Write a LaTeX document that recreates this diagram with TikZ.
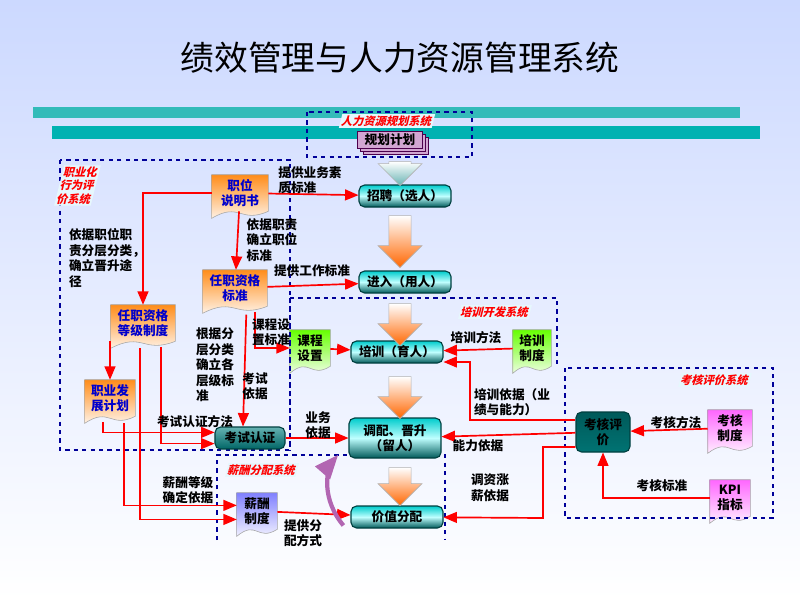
\documentclass[tikz,border=0pt]{standalone}
\usepackage{fontspec}
\setmainfont{Noto Sans CJK SC}
\usetikzlibrary{shapes.arrows, arrows, calc}
\pgfdeclarelayer{bg}
\pgfdeclarelayer{background}
\pgfsetlayers{bg,background,main}
\tikzstyle{stage} = [rectangle, rounded corners=4pt,
minimum width=2.3cm,
minimum height=0.55cm,
text centered,
font=\bfseries\small,
draw=teal!50!black, thick,
top color=cyan!60!teal, bottom color=teal!70!black, middle color=cyan!25]
\tikzstyle{doc} = [rectangle,
minimum width=1.4cm,
minimum height=0.9cm,
text centered,
align=center,
font=\bfseries\small,
inner sep=1pt]
\tikzstyle{frame} = [draw=blue!60!black, dashed, thick]
\tikzstyle{sysname} = [font=\bfseries\footnotesize, text=red, fill=cyan!10, align=left, inner sep=1pt, xslant=0.25]
\tikzstyle{txt} = [font=\bfseries\small, text=black, align=left, inner sep=1pt]
\tikzstyle{arrow} = [red, very thick, ->, >=triangle 45]
\tikzstyle{bigarrow} = [single arrow, shape border rotate=270, draw=gray!60,
minimum height=1.05cm, minimum width=1.1cm, single arrow head extend=0.12cm,
top color=white, bottom color=orange!80!red]
% wavy document shape behind a node
\newcommand{\docshape}[3]{%
\begin{pgfonlayer}{background}
\path[draw=gray!70, top color=#2, bottom color=#3]
 (#1.north west) -- (#1.north east) -- (#1.south east)
 .. controls ($(#1.south)+(0,-9pt)$) and ($(#1.south)+(0,7pt)$) ..
 ($(#1.south west)+(0,-5pt)$) -- cycle;
\end{pgfonlayer}}

\begin{document}
\begin{tikzpicture}[x=0.025cm, y=-0.025cm]
\begin{pgfonlayer}{bg}
\fill[top color=cyan!25!blue!20, bottom color=white] (0,0) rectangle (800,600);
\fill[cyan!60!green!80] (33,107) rectangle (740,118);
\fill[teal!60!cyan] (52,126) rectangle (760,139);
\end{pgfonlayer}
\node at (400,58) {\fontsize{24}{26}\selectfont 绩效管理与人力资源管理系统};

% frames
\draw[frame] (307,112) rectangle (472,157);
\draw[frame] (60,160) rectangle (290,450);
\draw[frame] (290,298) -- (557,298) -- (557,368);
\draw[frame] (290,298) -- (290,450);
\draw[frame] (565,368) rectangle (773,518);
\draw[frame] (217,540) -- (217,455) -- (445,455) -- (445,540);
\node[sysname] (sysplan) at (387,121) {人力资源规划系统};
\node[sysname, anchor=north west] (sysjob) at (64,165) {职业化\\行为评\\价系统};
\node[sysname] (systrain) at (495,312) {培训开发系统};
\node[sysname] (syseval) at (715,380) {考核评价系统};
\node[sysname] (syspay) at (262,470) {薪酬分配系统};

% stages
\node (plan) [doc, minimum width=1.6cm, minimum height=0.42cm] at (390,140) {规划计划};
\begin{pgfonlayer}{background}
\foreach \d in {6,3,0}
  \draw[fill=violet!35, draw=violet!60!black] ($(plan.south west)+(\d*0.025cm,-\d*0.025cm)$) rectangle ($(plan.north east)+(\d*0.025cm,-\d*0.025cm)$);
\end{pgfonlayer}
\node (recruit) [stage] at (405,196) {招聘（选人）};
\node (enter) [stage] at (405,282) {进入（用人）};
\node (train) [stage] at (397,352) {培训（育人）};
\node (promote) [stage, minimum height=1cm, align=center] at (395,438) {调配、晋升\\（留人）};
\node (value) [stage] at (397,517) {价值分配};
\node (exam) [stage, minimum width=1.75cm, top color=teal!60, middle color=green!30!cyan!30, bottom color=teal!80!black] at (250,438) {考试认证};
\node (evaluate) [stage, minimum width=1.35cm, minimum height=1cm, align=center, top color=teal!70!black, middle color=teal!50, bottom color=teal!90!black] at (603,432) {考核评\\价};

\node (a1) [bigarrow, top color=white, bottom color=teal!60, minimum height=0.6cm] at (400,168) {};
\node (a2) [bigarrow, minimum height=1.3cm] at (400,236) {};
\node (a3) [bigarrow] at (400,319) {};
\node (a4) [bigarrow] at (400,392) {};
\node (a5) [bigarrow, minimum height=0.95cm] at (400,481) {};

% documents
\node (post) [doc, text=blue!80!black] at (240,193) {职位\\说明书};
\docshape{post}{orange!90}{white}
\node (qstd) [doc, minimum width=1.6cm, text=blue!80!black] at (235,288) {任职资格\\标准};
\docshape{qstd}{orange!90}{white}
\node (qlevel) [doc, minimum width=1.6cm, text=blue!80!black] at (143,323) {任职资格\\等级制度};
\docshape{qlevel}{orange!90}{white}
\node (career) [doc, minimum width=1.25cm, text=blue!80!black] at (110,398) {职业发\\展计划};
\docshape{career}{orange!90}{white}
\node (course) [doc, minimum width=1cm] at (310,348) {课程\\设置};
\docshape{course}{green!60!yellow}{white}
\node (trainsys) [doc, minimum width=0.95cm] at (532,348) {培训\\制度};
\docshape{trainsys}{green!60!yellow}{white}
\node (evalsys) [doc, minimum width=1.1cm] at (730,428) {考核\\制度};
\docshape{evalsys}{magenta!60}{white}
\node (kpi) [doc, minimum width=1cm] at (730,498) {KPI\\指标};
\docshape{kpi}{magenta!60}{white}
\node (paysys) [doc, minimum width=1cm] at (257,511) {薪酬\\制度};
\docshape{paysys}{blue!50}{white}

% connectors
\draw [arrow] (post) -- (recruit);
\node[txt] at (310,180) {提供业务素\\质标准};
\draw [arrow] (post.west) -| (qlevel.north);
\node[txt] at (107,258) {依据职位职\\责分层分类，\\确立晋升途\\径};
\draw [arrow] (post) -- (qstd);
\node[txt] at (272,240) {依据职责\\确立职位\\标准};
\draw [arrow] (qstd) -- (enter);
\node[txt] at (312,271) {提供工作标准};
\draw [arrow] ($(qstd.south)+(14pt,-4pt)$) |- (course.west);
\node[txt] at (271,332) {课程设\\置标准};
\draw [arrow] ($(qstd.south)+(8pt,-6pt)$) -- ($(exam.north)+(-7*0.025cm,0)$);
\node[txt] at (255,386) {考试\\依据};
\node[txt] at (215,365) {根据分\\层分类\\确立各\\层级标\\准};
\draw [arrow] (qlevel.south -| career) -- (career);
\draw [arrow] ($(qlevel.south)+(13pt,-4pt)$) |- ($(exam.west)+(0,-4pt)$);
\node[txt] at (195,422) {考试认证方法};
\draw [arrow] ($(career.south)+(-5pt,-4pt)$) |- ($(exam.west)+(0,4pt)$);
\draw [arrow] ($(career.south)+(10pt,-5pt)$) |- ($(paysys.west)+(0,4pt)$);
\draw [arrow] ($(qlevel.south)+(-2pt,-5pt)$) |- ($(paysys.west)+(0,-6pt)$);
\node[txt] at (188,490) {薪酬等级\\确定依据};
\draw [arrow] (exam) -- (promote);
\node[txt] at (318,425) {业务\\依据};
\draw [arrow] (course) -- (train);
\draw [arrow] (trainsys) -- (train);
\node[txt] at (476,338) {培训方法};
\draw [arrow] ($(evaluate.west)+(0,12*0.025cm)$) -| (470,362) -- ($(train.east)+(0,-10*0.025cm)$);
\node[txt] at (512,402) {培训依据（业\\绩与能力）};
\draw [arrow] (evaluate) -- (promote);
\node[txt] at (478,446) {能力依据};
\draw [arrow] ($(evaluate.west)+(0,-15*0.025cm)$) -| (543,518) -- (value);
\node[txt] at (490,488) {调资涨\\薪依据};
\draw [arrow] (evalsys) -- (evaluate);
\node[txt] at (676,423) {考核方法};
\draw [arrow] (kpi.west) -| (evaluate.south);
\node[txt] at (662,486) {考核标准};
\draw [arrow] (paysys) -- (value);
\node[txt] at (303,533) {提供分\\配方式};
\draw [violet!60, line width=3pt, ->, >=triangle 45] ($(value.west)+(-5pt,-6pt)$) .. controls (322,500) and (325,470) .. (338,455);
\end{tikzpicture}
\end{document}
